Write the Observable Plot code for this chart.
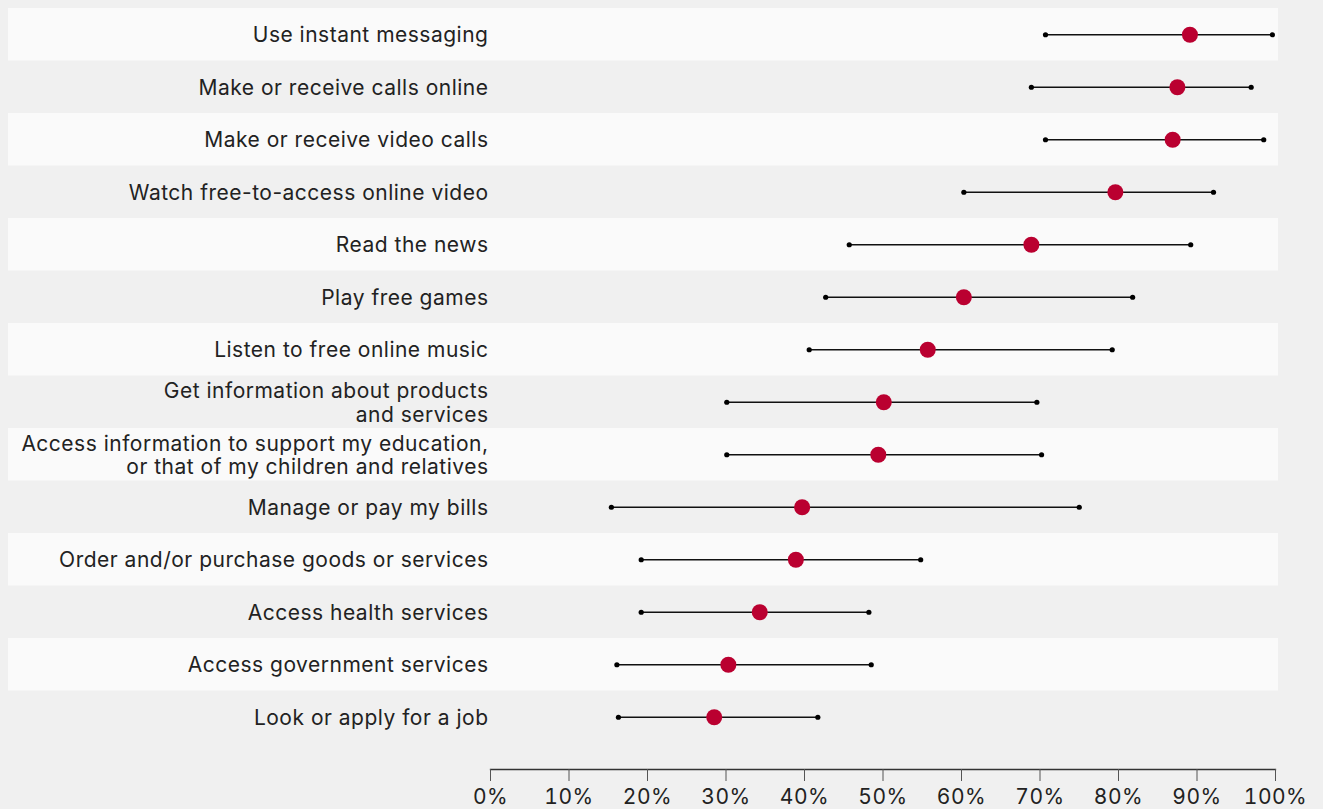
<!DOCTYPE html>
<html><head><meta charset="utf-8">
<script src="https://cdn.jsdelivr.net/npm/d3@7"></script>
<script src="https://cdn.jsdelivr.net/npm/@observablehq/plot@0.6"></script>
<style>html,body{margin:0;padding:0;background:#f0f0f0;} svg{display:block}</style>
</head><body><div id="chart"></div>
<script>
const categories = [
  "Use instant messaging",
  "Make or receive calls online",
  "Make or receive video calls",
  "Watch free-to-access online video",
  "Read the news",
  "Play free games",
  "Listen to free online music",
  "Get information about products\nand services",
  "Access information to support my education,\nor that of my children and relatives",
  "Manage or pay my bills",
  "Order and/or purchase goods or services",
  "Access health services",
  "Access government services",
  "Look or apply for a job"
];
const lows  = [70.7, 68.9, 70.7, 60.3, 45.7, 42.7, 40.6, 30.1, 30.1, 15.4, 19.2, 19.2, 16.1, 16.3];
const mids  = [89.1, 87.5, 86.9, 79.6, 68.9, 60.3, 55.7, 50.1, 49.4, 39.7, 38.9, 34.3, 30.3, 28.5];
const highs = [99.6, 96.9, 98.5, 92.1, 89.2, 81.8, 79.2, 69.6, 70.2, 75.0, 54.8, 48.2, 48.5, 41.7];
const xTicks = [0, 10, 20, 30, 40, 50, 60, 70, 80, 90, 100];

const data = categories.map((c, i) => ({category: c, low: lows[i], mid: mids[i], high: highs[i], light: i % 2 === 0}));

const chart = Plot.plot({
  width: 1323, height: 809,
  marginLeft: 490, marginRight: 48, marginTop: 8, marginBottom: 40,
  style: {background: "#f0f0f0", fontFamily: "Inter, Lato, sans-serif", fontSize: "21px", color: "#222", overflow: "visible", letterSpacing: "0.5px"},
  x: {domain: [0, 100], label: null},
  y: {domain: categories, range: [8, 743], padding: 0, round: false, label: null},
  marks: [
    Plot.cell(data.filter(d => d.light), {y: "category", fill: "#fafafa", insetLeft: -482, insetRight: -3}),
    Plot.frame({anchor: "bottom", stroke: "#333", strokeWidth: 1.3}),
    Plot.axisX({ticks: xTicks, tickFormat: d => d + "%", tickSize: 12, tickPadding: 8, stroke: "#555", fill: "#222", fontSize: 21, label: null}),
    Plot.axisY({tickSize: 0, tickPadding: 2, fill: "#222", fontSize: 21, lineHeight: 1.12, label: null}),
    Plot.ruleY(data, {y: "category", x1: "low", x2: "high", stroke: "#111", strokeWidth: 1.5}),
    Plot.dot(data, {y: "category", x: "low", r: 2.6, fill: "#000"}),
    Plot.dot(data, {y: "category", x: "high", r: 2.6, fill: "#000"}),
    Plot.dot(data, {y: "category", x: "mid", r: 8, fill: "#ba0030"})
  ]
});
document.getElementById("chart").append(chart);
</script>
</body></html>
